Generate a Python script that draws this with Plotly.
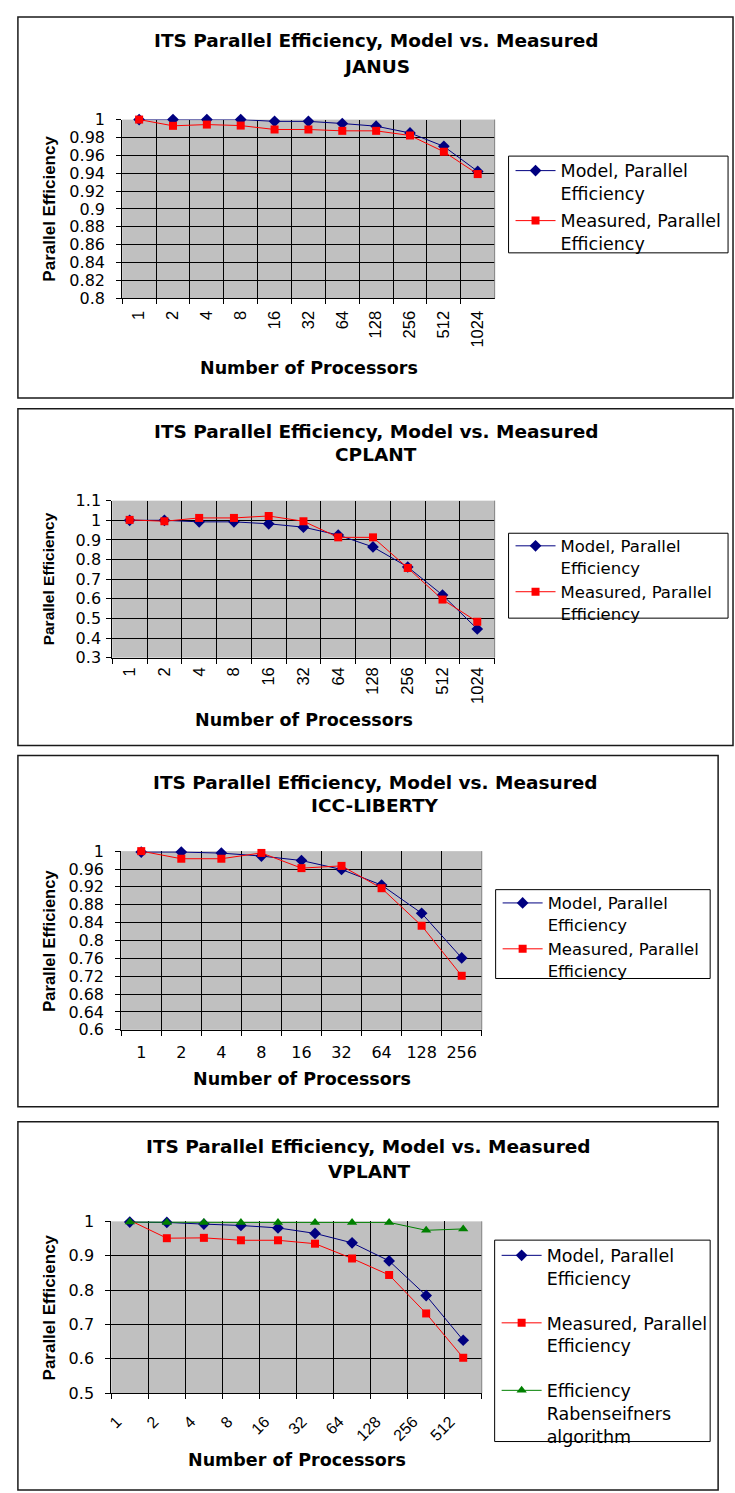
import plotly.graph_objects as go

W, H = 735, 1493

# ---------------- data ----------------
procs_all = ["1", "2", "4", "8", "16", "32", "64", "128", "256", "512", "1024"]

janus_procs = procs_all
janus_model = [1.0, 1.0, 1.0, 1.0, 0.998, 0.998, 0.9956, 0.9926, 0.985, 0.970, 0.942]
janus_measured = [1.0, 0.993, 0.9944, 0.9933, 0.9889, 0.9889, 0.9874, 0.9874, 0.9822, 0.964, 0.939]

cplant_procs = procs_all
cplant_model = [1.0, 1.0, 0.992, 0.992, 0.982, 0.965, 0.925, 0.864, 0.762, 0.619, 0.446]
cplant_measured = [1.002, 0.995, 1.012, 1.012, 1.022, 0.995, 0.913, 0.913, 0.757, 0.596, 0.483]

icc_procs = procs_all[:9]
icc_model = [0.998, 0.998, 0.9956, 0.989, 0.979, 0.959, 0.924, 0.861, 0.761]
icc_measured = [1.0, 0.983, 0.983, 0.996, 0.962, 0.967, 0.917, 0.833, 0.721]

vplant_procs = procs_all[:10]
vplant_model = [0.998, 0.997, 0.992, 0.988, 0.981, 0.965, 0.9375, 0.885, 0.784, 0.654]
vplant_measured = [1.003, 0.951, 0.952, 0.945, 0.945, 0.935, 0.892, 0.844, 0.732, 0.603]
vplant_raben = [0.998, 0.997, 0.997, 0.997, 0.997, 0.997, 0.997, 0.997, 0.974, 0.978]

systems = ["JANUS", "CPLANT", "ICC-LIBERTY", "VPLANT"]
title_main = "ITS Parallel Efficiency, Model vs. Measured"
name_model = "Model, Parallel<br>Efficiency"
name_measured = "Measured, Parallel<br>Efficiency"
name_raben = "Efficiency<br>Rabenseifners<br>algorithm"
x_title = "Number of Processors"
y_title = "Parallel Efficiency"

y_ranges = [(0.8, 1.0, 0.02), (0.3, 1.1, 0.1), (0.6, 1.0, 0.04), (0.5, 1.0, 0.1)]

# ---------------- layout geometry (pixels) ----------------
WIDE = "DejaVu Sans, Verdana, sans-serif"
NARROW = "Liberation Sans, Arial, sans-serif"
plot_px = [  # left, right, top, bottom
    (118, 493, 112, 293),
    (108, 493, 498, 657),
    (117, 480, 853, 1034),
    (107, 480, 1228, 1402),
]
box_px = [
    (13, 733, 8, 394),
    (13, 733, 405, 746),
    (13, 718, 756, 1112),
    (13, 718, 1127, 1500),
]
legbox_px = [
    (507, 728, 149, 247),
    (507, 728, 531, 617),
    (494, 710, 892, 982),
    (493, 710, 1247, 1451),
]
leg_top = [145.6, 526.3, 888, 1244.3]
leg_font = [17.5, 16.5, 16.5, 17.5]
leg_gap = [1.5, 0, 0, 19]
title_px = [(374, 32, 58), (374, 428, 451), (373, 783, 807), (366, 1152, 1177)]
xt_px = [(306, 364), (301, 720), (299, 1084), (294, 1470)]
yt_px = [(44.5, 202, 17), (44, 577, 15.5), (44, 944, 16.5), (44.5, 1315, 17)]
tickangles = [-90, -90, 0, -45]
xtick_font = [(NARROW, 16.5), (NARROW, 16.5), (WIDE, 16), (NARROW, 16)]
xtick_standoff = [5, 2, 8, 12]
xtick_shift = [0, 0, 0, -13]
ytick_standoff = [8, 2, 8, 8]


def px(x):
    return x / W


def py(y):
    return 1 - y / H


fig = go.Figure()

series = [
    [(janus_procs, janus_model, name_model, "#000080", "diamond", 9),
     (janus_procs, janus_measured, name_measured, "#FF0000", "square", 8)],
    [(cplant_procs, cplant_model, name_model, "#000080", "diamond", 9),
     (cplant_procs, cplant_measured, name_measured, "#FF0000", "square", 8)],
    [(icc_procs, icc_model, name_model, "#000080", "diamond", 9),
     (icc_procs, icc_measured, name_measured, "#FF0000", "square", 8)],
    [(vplant_procs, vplant_model, name_model, "#000080", "diamond", 9),
     (vplant_procs, vplant_measured, name_measured, "#FF0000", "square", 8),
     (vplant_procs, vplant_raben, name_raben, "#008000", "triangle-up", 9)],
]

shapes = []
annotations = []
layout_axes = {}

for i in range(4):
    k = "" if i == 0 else str(i + 1)
    leg = "legend" + k
    for j, (xs, ys, nm, col, sym, ms) in enumerate(series[i]):
        fig.add_trace(go.Scatter(
            x=xs, y=ys, name=nm, mode="lines+markers",
            line=dict(color=col, width=1),
            marker=dict(color=col, symbol=sym, size=ms, line=dict(width=0)),
            xaxis="x" + k, yaxis="y" + k, legend=leg,
            legendgroup=f"g{i}_{j}", cliponaxis=False,
            hoverinfo="skip",
        ))

    l, r, t, b = plot_px[i]
    y0, y1, dt = y_ranges[i]
    cats = series[i][0][0]
    ff, fs = xtick_font[i]
    layout_axes["xaxis" + k] = dict(
        domain=[px(l), px(r)], anchor="y" + k, type="category",
        categoryorder="array", categoryarray=cats,
        range=[-0.5, len(cats) - 0.5],
        tickson="boundaries", ticks="outside", ticklen=5, tickcolor="black",
        showgrid=True, gridcolor="black", gridwidth=1,
        showline=True, linecolor="black", linewidth=1,
        tickangle=tickangles[i], tickfont=dict(family=ff, size=fs, color="black"),
        ticklabelstandoff=xtick_standoff[i], ticklabelshift=xtick_shift[i],
        fixedrange=True, zeroline=False,
    )
    layout_axes["yaxis" + k] = dict(
        domain=[py(b), py(t)], anchor="x" + k,
        range=[y0, y1], dtick=dt, tick0=y0,
        ticks="outside", ticklen=5, tickcolor="black",
        showgrid=True, gridcolor="black", gridwidth=1,
        showline=True, linecolor="black", linewidth=1,
        tickfont=dict(family=WIDE, size=16, color="black"),
        ticklabelstandoff=ytick_standoff[i],
        fixedrange=True, zeroline=False,
    )

    # plot-area right border (gray)
    shapes.append(dict(type="line", xref="paper", yref="paper",
                       x0=px(r), x1=px(r), y0=py(b), y1=py(t),
                       line=dict(color="#808080", width=1), layer="above"))
    # outer chart box
    bl, br, bt, bb = box_px[i]
    shapes.append(dict(type="rect", xref="paper", yref="paper",
                       x0=px(bl), x1=px(br), y0=py(bb), y1=py(bt),
                       line=dict(color="#1a1a1a", width=1.5), fillcolor="rgba(0,0,0,0)",
                       layer="below"))
    # legend box
    ll, lr, lt, lb = legbox_px[i]
    shapes.append(dict(type="rect", xref="paper", yref="paper",
                       x0=px(ll), x1=px(lr), y0=py(lb), y1=py(lt),
                       line=dict(color="black", width=1), fillcolor="white",
                       layer="below"))

    # titles
    tx, ty1, ty2 = title_px[i]
    annotations.append(dict(text=f"<b>{title_main}</b>", x=px(tx), y=py(ty1),
                            xref="paper", yref="paper", showarrow=False,
                            xanchor="center", yanchor="middle",
                            font=dict(family=WIDE, size=18.5, color="black")))
    annotations.append(dict(text=f"<b>{systems[i]}</b>", x=px(tx), y=py(ty2),
                            xref="paper", yref="paper", showarrow=False,
                            xanchor="center", yanchor="middle",
                            font=dict(family=WIDE, size=18.5, color="black")))
    xx, xy = xt_px[i]
    annotations.append(dict(text=f"<b>{x_title}</b>", x=px(xx), y=py(xy),
                            xref="paper", yref="paper", showarrow=False,
                            xanchor="center", yanchor="middle",
                            font=dict(family=WIDE, size=17.5, color="black")))
    yx, yy, ys_ = yt_px[i]
    annotations.append(dict(text=f"<b>{y_title}</b>", x=px(yx), y=py(yy),
                            xref="paper", yref="paper", showarrow=False,
                            textangle=-90, xanchor="center", yanchor="middle",
                            font=dict(family=NARROW, size=ys_, color="black")))

legends = {}
for i in range(4):
    k = "" if i == 0 else str(i + 1)
    ll, lr, lt, lb = legbox_px[i]
    legends["legend" + k] = dict(
        bgcolor="rgba(0,0,0,0)", borderwidth=0,
        font=dict(family=WIDE, size=leg_font[i], color="black"),
        xanchor="left", yanchor="top", valign="top",
        itemwidth=40, itemclick=False, itemdoubleclick=False,
        x=px(ll + 2), y=py(leg_top[i]), tracegroupgap=leg_gap[i],
    )

fig.update_layout(
    width=W, height=H,
    margin=dict(l=0, r=0, t=0, b=0),
    paper_bgcolor="white", plot_bgcolor="#C0C0C0",
    showlegend=True,
    shapes=shapes, annotations=annotations,
    **layout_axes, **legends,
)

fig.write_html("out.html")
